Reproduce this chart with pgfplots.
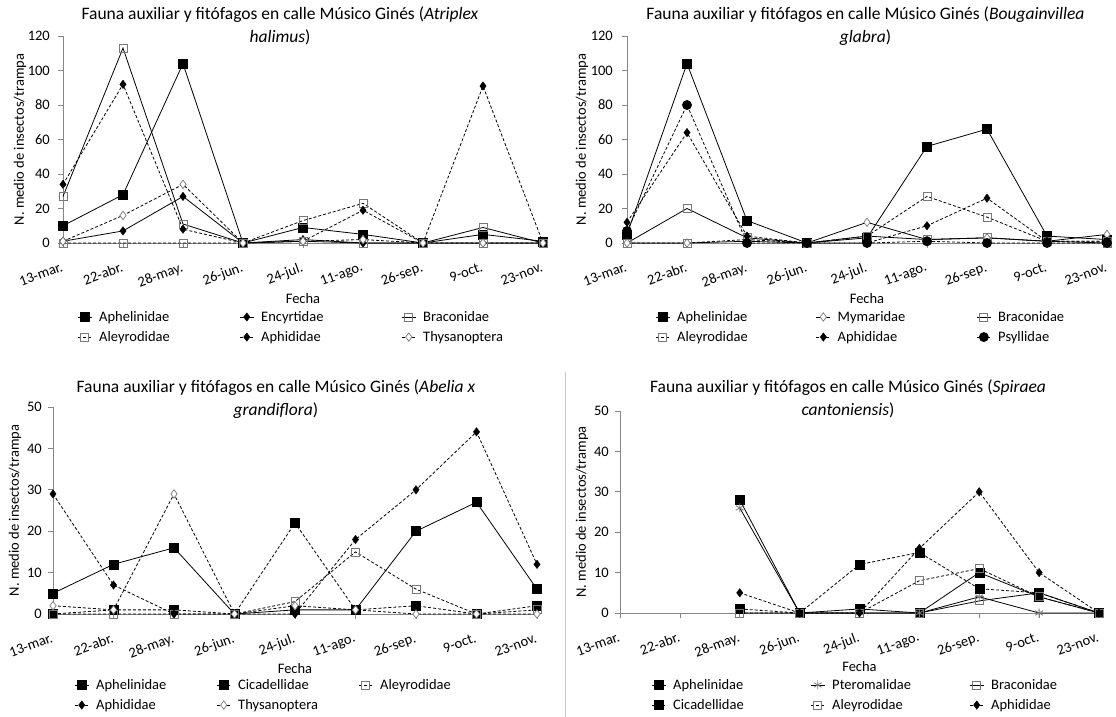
\documentclass[border=0pt]{standalone}
\usepackage{pgfplots}
\pgfplotsset{compat=1.18}
\usepackage{fontspec}
\setmainfont{Carlito}
\definecolor{axgray}{RGB}{134,134,134}
\definecolor{mkgray}{RGB}{120,120,120}
\definecolor{sepgray}{RGB}{200,200,200}
\newcommand\tf{\fontsize{14.5}{17}\selectfont}
\newcommand\ttl{\fontsize{17.5}{23}\selectfont}
\newcommand\LE[2]{\addlegendentry{\makebox[#1pt][l]{#2}}}
\pgfplotsset{
  panel/.style={
    scale only axis,
    xmin=0, xmax=8, ymin=0,
    axis x line*=bottom, axis y line*=left,
    axis line style={axgray, line width=0.75pt, -},
    xtick align=outside, ytick align=outside,
    tick style={axgray, line width=0.75pt},
    major tick length=5pt,
    xtick={0,...,8},
    xticklabels={13-mar.,22-abr.,28-may.,26-jun.,24-jul.,11-ago.,26-sep.,9-oct.,23-nov.},
    /pgf/number format/assume math mode=true,
    every tick label/.append style={font=\tf, black},
    xticklabel style={rotate=20, anchor=north east, inner sep=0pt, xshift=-7pt, yshift=-12pt},
    yticklabel style={anchor=east, inner sep=0pt, xshift=-8pt},
    ylabel={N. medio de insectos/trampa},
    xlabel={Fecha},
    label style={font=\tf, black},
    ylabel style={anchor=center},
    xlabel style={anchor=center},
    clip=false,
    legend columns=3,
    legend cell align=left,
    legend style={draw=none, fill=none, inner sep=0pt, font=\tf, row sep=8.5pt,
      nodes={inner sep=0pt},
      /tikz/every odd column/.append style={column sep=7pt}},
    legend image code/.code={\draw[mark repeat=2,mark phase=2,##1] plot coordinates {(0pt,0pt) (7pt,0pt) (14pt,0pt)};},
  },
  sl/.style={black, line width=0.8pt, solid},
  dl/.style={black, line width=0.8pt, dash pattern=on 3pt off 2pt},
  mSqF/.style={mark=square*, mark size=4.5pt, mark options={solid, fill=black, draw=black, line width=0.5pt}},
  mSqO/.style={mark=square, mark size=4pt, mark options={solid, draw=mkgray, line width=0.8pt}},
  mDmF/.style={mark=diamond*, mark size=4.2pt, mark options={solid, fill=black, draw=black, line width=0.4pt}},
  mDmO/.style={mark=diamond*, mark size=4.2pt, mark options={solid, fill=white, draw=mkgray, line width=0.7pt}},
  mCi/.style={mark=*, mark size=4.5pt, mark options={solid, fill=black, draw=black}},
  mAs/.style={mark=asterisk, mark size=4.5pt, mark options={solid, draw=mkgray, line width=0.8pt}},
}
\begin{document}
\begin{tikzpicture}
% ---------- Top left: Atriplex halimus ----------
\begin{axis}[panel, width=480pt, height=207pt, at={(63pt,-243pt)}, anchor=south west,
  ymax=120, ytick={0,20,...,120},
  ylabel style={at={(axis description cs:-0.0896,0.5)}},
  xlabel style={at={(axis description cs:0.5,-0.27)}},
  legend style={at={(axis description cs:0.0296,-0.3285)}, anchor=north west}]
\addplot[sl, mSqF] coordinates {(0,10)(1,28)(2,104)(3,0)(4,9)(5,5)(6,0)(7,5)(8,1)}; \LE{140.2}{Aphelinidae}
\addplot[sl, mDmF] coordinates {(0,1)(1,7)(2,27)(3,0)(4,2)(5,0)(6,0)(7,0)(8,0)}; \LE{140.2}{Encyrtidae}
\addplot[sl, mSqO] coordinates {(0,27)(1,113)(2,11)(3,0)(4,1)(5,0)(6,0)(7,9)(8,0)}; \LE{140.2}{Braconidae}
\addplot[dl, mSqO] coordinates {(0,0)(1,0)(2,0)(3,0)(4,13)(5,23)(6,0)(7,0)(8,0)}; \LE{140.2}{Aleyrodidae}
\addplot[dl, mDmF] coordinates {(0,34)(1,92)(2,8)(3,0)(4,1)(5,19)(6,0)(7,91)(8,0)}; \LE{140.2}{Aphididae}
\addplot[dl, mDmO] coordinates {(0,1)(1,16)(2,34)(3,0)(4,1)(5,2)(6,0)(7,0)(8,0)}; \LE{140.2}{Thysanoptera}
\end{axis}
% ---------- Top right: Bougainvillea glabra ----------
\begin{axis}[panel, width=480pt, height=207pt, at={(627pt,-243pt)}, anchor=south west,
  ymax=120, ytick={0,20,...,120},
  yticklabel style={xshift=-1pt},
  ylabel style={at={(axis description cs:-0.094,0.5)}},
  xlabel style={at={(axis description cs:0.5,-0.27)}},
  legend style={at={(axis description cs:0.0588,-0.3285)}, anchor=north west}]
\addplot[sl, mSqF] coordinates {(0,5)(1,104)(2,13)(3,0)(4,3)(5,56)(6,66)(7,4)(8,2)}; \LE{138.7}{Aphelinidae}
\addplot[sl, mDmO] coordinates {(0,0)(1,0)(2,1)(3,0)(4,12)(5,2)(6,3)(7,1)(8,5)}; \LE{138.7}{Mymaridae}
\addplot[sl, mSqO] coordinates {(0,0)(1,20)(2,3)(3,0)(4,4)(5,2)(6,3)(7,1)(8,0)}; \LE{138.7}{Braconidae}
\addplot[dl, mSqO] coordinates {(0,0)(1,0)(2,2)(3,0)(4,4)(5,27)(6,15)(7,1)(8,1)}; \LE{138.7}{Aleyrodidae}
\addplot[dl, mDmF] coordinates {(0,12)(1,64)(2,4)(3,0)(4,0)(5,10)(6,26)(7,1)(8,1)}; \LE{138.7}{Aphididae}
\addplot[dl, mCi] coordinates {(0,7)(1,80)(2,0)(3,0)(4,0)(5,1)(6,0)(7,0)(8,0)}; \LE{138.7}{Psyllidae}
\end{axis}
% ---------- Bottom left: Abelia x grandiflora ----------
\begin{axis}[panel, width=484pt, height=207pt, at={(53pt,-614pt)}, anchor=south west,
  ymax=50, ytick={0,10,...,50},
  yticklabel style={xshift=2pt},
  ylabel style={at={(axis description cs:-0.0785,0.5)}},
  xlabel style={at={(axis description cs:0.5,-0.261)}},
  legend style={at={(axis description cs:0.0438,-0.314)}, anchor=north west}]
\addplot[sl, mSqF] coordinates {(0,5)(1,12)(2,16)(3,0)(4,1)(5,1)(6,20)(7,27)(8,6)}; \LE{120.2}{Aphelinidae}
\addplot[dl, mSqF] coordinates {(0,0)(1,1)(2,1)(3,0)(4,22)(5,1)(6,2)(7,0)(8,2)}; \LE{120.2}{Cicadellidae}
\addplot[dl, mSqO] coordinates {(0,0)(1,0)(2,0)(3,0)(4,3)(5,15)(6,6)(7,0)(8,1)}; \LE{120.2}{Aleyrodidae}
\addplot[dl, mDmF] coordinates {(0,29)(1,7)(2,0)(3,0)(4,0)(5,18)(6,30)(7,44)(8,12)}; \LE{120.2}{Aphididae}
\addplot[dl, mDmO] coordinates {(0,2)(1,1)(2,29)(3,0)(4,2)(5,1)(6,0)(7,0)(8,0)}; \LE{120.2}{Thysanoptera}
\end{axis}
% ---------- Bottom right: Spiraea cantoniensis ----------
\begin{axis}[panel, width=479pt, height=202pt, at={(620pt,-613pt)}, anchor=south west,
  ymax=50, ytick={0,10,...,50},
  yticklabel style={xshift=2pt},
  ylabel style={at={(axis description cs:-0.0793,0.5)}},
  xlabel style={at={(axis description cs:0.5,-0.267)}},
  legend style={at={(axis description cs:0.0651,-0.3267)}, anchor=north west}]
\addplot[sl, mSqF] coordinates {(2,28)(3,0)(4,1)(5,0)(6,10)(7,4)(8,0)}; \LE{137.2}{Aphelinidae}
\addplot[sl, mAs] coordinates {(2,26)(3,0)(4,0)(5,0)(6,4)(7,0)(8,0)}; \LE{137.2}{Pteromalidae}
\addplot[sl, mSqO] coordinates {(2,0)(3,0)(4,0)(5,0)(6,3)(7,5)(8,0)}; \LE{137.2}{Braconidae}
\addplot[dl, mSqF] coordinates {(2,1)(3,0)(4,12)(5,15)(6,6)(7,5)(8,0)}; \LE{137.2}{Cicadellidae}
\addplot[dl, mSqO] coordinates {(2,0)(3,0)(4,0)(5,8)(6,11)(7,4)(8,0)}; \LE{137.2}{Aleyrodidae}
\addplot[dl, mDmF] coordinates {(2,5)(3,0)(4,0)(5,16)(6,30)(7,10)(8,0)}; \LE{137.2}{Aphididae}
\end{axis}
% ---------- Titles ----------
\node[font=\ttl, anchor=base] at (280pt,-19.5pt) {Fauna auxiliar y fitófagos en calle Músico Ginés (\textit{Atriplex}};
\node[font=\ttl, anchor=base] at (280pt,-43pt) {\textit{halimus})};
\node[font=\ttl, anchor=base] at (865.5pt,-19.5pt) {Fauna auxiliar y fitófagos en calle Músico Ginés (\textit{Bougainvillea}};
\node[font=\ttl, anchor=base] at (865.5pt,-43pt) {\textit{glabra})};
\node[font=\ttl, anchor=base] at (276pt,-392pt) {Fauna auxiliar y fitófagos en calle Músico Ginés (\textit{Abelia x}};
\node[font=\ttl, anchor=base] at (276pt,-415pt) {\textit{grandiflora})};
\node[font=\ttl, anchor=base] at (848pt,-392pt) {Fauna auxiliar y fitófagos en calle Músico Ginés (\textit{Spiraea}};
\node[font=\ttl, anchor=base] at (848pt,-415.5pt) {\textit{cantoniensis})};
\draw[sepgray, line width=0.8pt] (565pt,-372pt) -- (565pt,-717pt);
\pgfresetboundingbox
\path[use as bounding box] (0pt,0pt) rectangle (1116pt,-717pt);
\end{tikzpicture}
\end{document}
